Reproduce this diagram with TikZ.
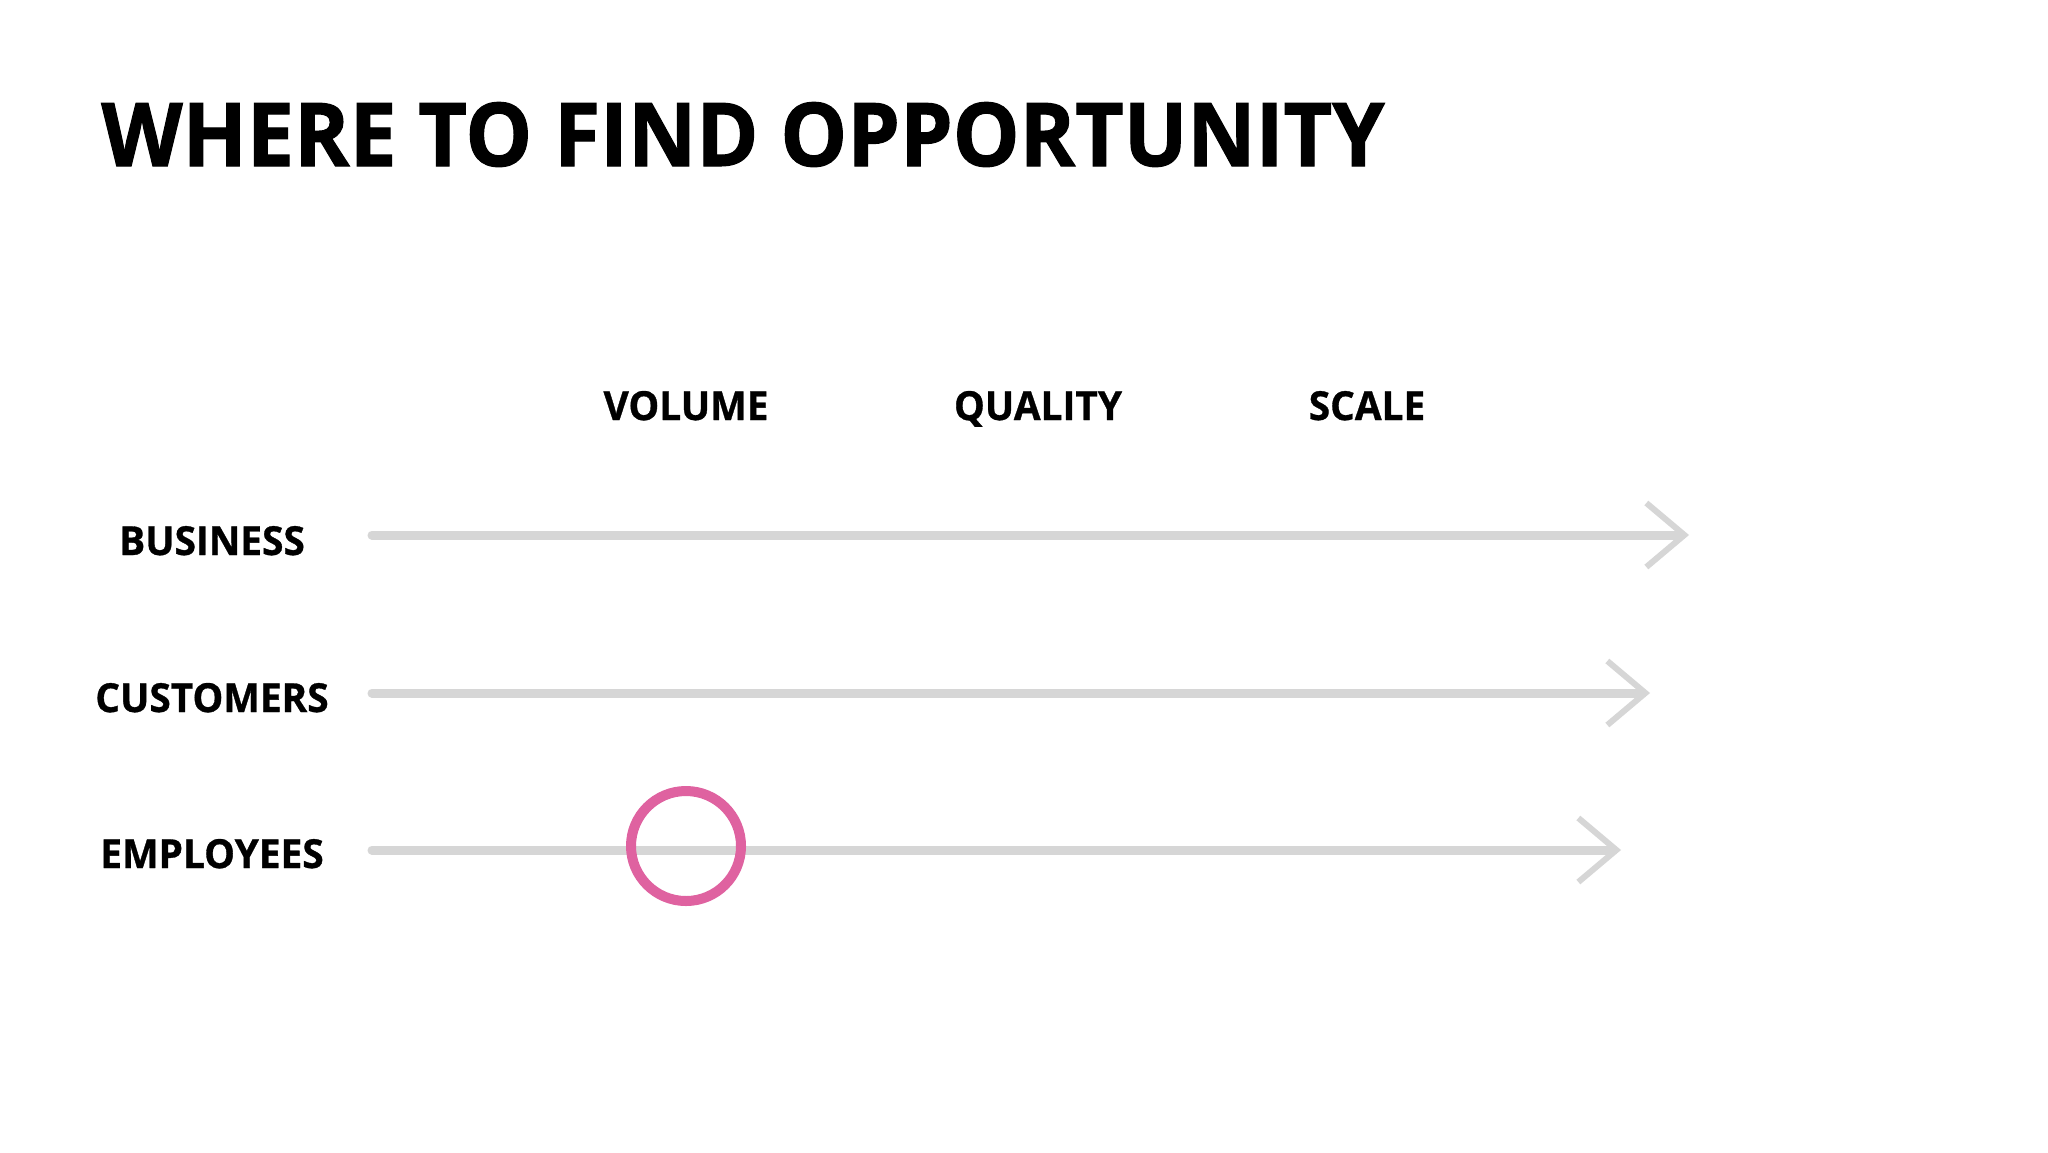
\documentclass[tikz,border=0pt]{standalone}
\usepackage{fontspec}
\setmainfont{Open Sans}
\newfontfamily\titlefont[FakeStretch=0.955,FakeBold=1.2]{Open Sans}
\newfontfamily\labelfont[FakeStretch=0.97,FakeBold=0.8]{Open Sans}
\usetikzlibrary{arrows.meta}
\definecolor{brushgray}{RGB}{214,214,214}
\definecolor{ringpink}{RGB}{223,98,160}
\begin{document}
\begin{tikzpicture}[x=0.5pt,y=-0.5pt,
  titletext/.style={font=\titlefont\bfseries\fontsize{44}{50}\selectfont, anchor=base west, inner sep=0pt},
  headtext/.style={font=\labelfont\bfseries\fontsize{20}{24}\selectfont, anchor=base, inner sep=0pt},
  rowtext/.style={font=\labelfont\bfseries\fontsize{20}{24}\selectfont, anchor=base, inner sep=0pt},
  brush/.style={draw=brushgray, line width=4.5pt, line cap=round,
    -{Straight Barb[length=19pt,width=32pt,line width=3pt]}},
  ring/.style={circle, draw=ringpink, line width=5pt, minimum size=55pt, inner sep=0pt}]
\path[fill=white] (0,0) rectangle (2048,1152);
\node[titletext] (title) at (101,166) {WHERE TO FIND OPPORTUNITY};
\node[headtext] (volume) at (686,420) {VOLUME};
\node[headtext] (quality) at (1038,420) {QUALITY};
\node[headtext] (scale) at (1367,420) {SCALE};
\node[rowtext] (business) at (212,555) {BUSINESS};
\node[rowtext] (customers) at (212,712) {CUSTOMERS};
\node[rowtext] (employees) at (212,868) {EMPLOYEES};
\coordinate (bs) at (372,535);
\coordinate (be) at (1689,535);
\coordinate (cs) at (372,693);
\coordinate (ce) at (1650,693);
\coordinate (es) at (372,850);
\coordinate (ee) at (1621,850);
\draw[brush] (bs) -- (be);
\draw[brush] (cs) -- (ce);
\draw[brush] (es) -- (ee);
\node[ring] (mark) at (686,846) {};
\end{tikzpicture}
\end{document}
